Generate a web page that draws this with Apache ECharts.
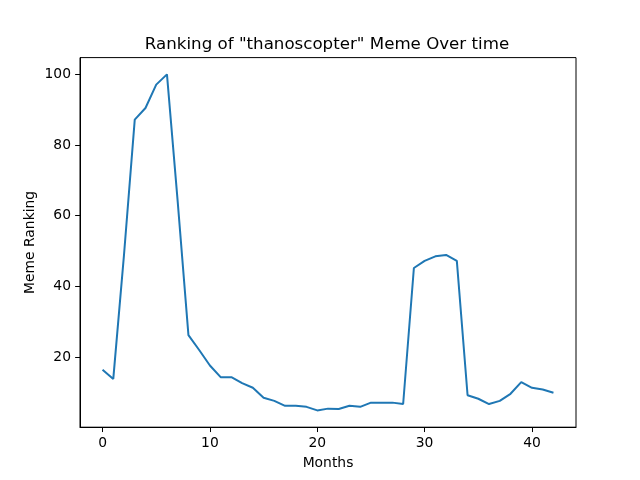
<!DOCTYPE html>
<html>
<head>
<meta charset="utf-8">
<script src="https://cdn.jsdelivr.net/npm/echarts@6/dist/echarts.min.js"></script>
<style>html,body{margin:0;padding:0;background:#fff}#c{width:640px;height:480px}</style>
</head>
<body>
<div id="c"></div>
<script>
const months = [0,1,2,3,4,5,6,7,8,9,10,11,12,13,14,15,16,17,18,19,20,21,22,23,24,25,26,27,28,29,30,31,32,33,34,35,36,37,38,39,40,41,42];
const ranking = [16.4,13.8,49,87.2,90.5,97.1,100,64,26.2,22,17.6,14.3,14.3,12.6,11.3,8.5,7.6,6.2,6.2,5.9,4.9,5.4,5.3,6.2,5.9,7.1,7.1,7.1,6.7,45.2,47.2,48.5,48.9,47.2,9.2,8.2,6.7,7.6,9.6,12.9,11.3,10.8,9.9];
const xTicks = [0,10,20,30,40];
const yTicks = [20,40,60,80,100];

const font = 'DejaVu Sans';
const chart = echarts.init(document.getElementById('c'), null, {renderer:'canvas'});
chart.setOption({
  animation:false,
  backgroundColor:'#fff',
  title:{
    text:'Ranking of "thanoscopter" Meme Over time',
    left:322, top:31, textAlign:'center',
    textStyle:{fontFamily:font, fontSize:16.67, fontWeight:'normal', color:'#000'}
  },
  grid:{left:80, right:64, top:57.6, bottom:52.8, show:true, borderColor:'#000', borderWidth:1, backgroundColor:'transparent'},
  xAxis:{
    type:'value', min:-2.1, max:44.1,
    name:'Months', nameLocation:'middle', nameGap:29, nameMoveOverlap:false,
    nameTextStyle:{fontFamily:font, fontSize:13.89, color:'#000'},
    axisLine:{show:true, onZero:false, lineStyle:{color:'#000', width:1}},
    axisTick:{show:true, inside:false, length:4.86, customValues:xTicks, lineStyle:{color:'#000'}},
    axisLabel:{fontFamily:font, fontSize:13.89, color:'#000', margin:9, customValues:xTicks},
    splitLine:{show:false}
  },
  yAxis:{
    type:'value', min:0.145, max:104.755,
    name:'Meme Ranking', nameLocation:'middle', nameGap:43, nameMoveOverlap:false,
    nameTextStyle:{fontFamily:font, fontSize:13.89, color:'#000'},
    axisLine:{show:true, onZero:false, lineStyle:{color:'#000', width:1}},
    axisTick:{show:true, inside:false, length:4.86, customValues:yTicks, lineStyle:{color:'#000'}},
    axisLabel:{fontFamily:font, fontSize:13.89, color:'#000', margin:9, customValues:yTicks},
    splitLine:{show:false}
  },
  series:[{
    type:'line',
    data:months.map((m,i)=>[m, ranking[i]]),
    showSymbol:false,
    lineStyle:{color:'#1f77b4', width:2},
    itemStyle:{color:'#1f77b4'}
  }]
});
</script>
</body>
</html>
